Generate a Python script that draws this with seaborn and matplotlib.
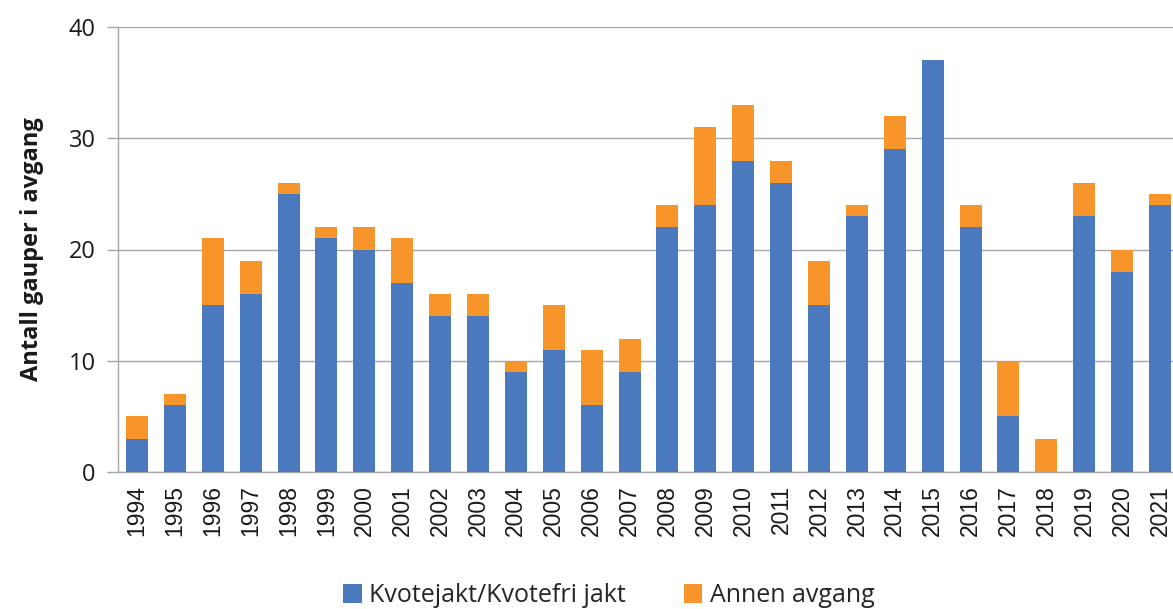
import matplotlib
matplotlib.use("Agg")
import matplotlib.pyplot as plt
import seaborn as sns
import pandas as pd
from matplotlib.patches import Patch

years = [str(y) for y in range(1994, 2022)]
kvotejakt = [3, 6, 15, 16, 25, 21, 20, 17, 14, 14, 9, 11, 6, 9, 22, 24, 28, 26, 15, 23, 29, 37, 22, 5, 0, 23, 18, 24]
annen = [2, 1, 6, 3, 1, 1, 2, 4, 2, 2, 1, 4, 5, 3, 2, 7, 5, 2, 4, 1, 3, 0, 2, 5, 3, 3, 2, 1]
labels = ["Kvotejakt/Kvotefri jakt", "Annen avgang"]
blue = "#4A7ABD"
orange = "#F7952B"

df = pd.DataFrame({"year": years, "kvote": kvotejakt, "annen": annen})
df["total"] = df["kvote"] + df["annen"]

sns.set_style("white")
plt.rcParams["font.family"] = ["Open Sans", "DejaVu Sans"]

fig = plt.figure(figsize=(11.73, 6.09), dpi=100)
ax = fig.add_axes([118/1173, 1 - 472/609, (1179 - 118)/1173, (472 - 27)/609])

sns.barplot(data=df, x="year", y="total", color=orange, width=0.58, saturation=1, ax=ax,
            zorder=2, linewidth=0, edgecolor="none")
sns.barplot(data=df, x="year", y="kvote", color=blue, width=0.58, saturation=1, ax=ax,
            zorder=3, linewidth=0, edgecolor="none")

ax.set_xlim(-0.5, len(years) - 0.5)
ax.set_ylim(0, 40)
ax.set_yticks([0, 10, 20, 30, 40])
ax.yaxis.grid(True, color="#A6A6A6", linewidth=1, zorder=0)
ax.set_axisbelow(True)
for s in ["top", "right"]:
    ax.spines[s].set_visible(False)
for s in ["left", "bottom"]:
    ax.spines[s].set_color("#A6A6A6")
    ax.spines[s].set_linewidth(1)
ax.tick_params(axis="y", left=True, length=8, width=1, color="#A6A6A6", labelsize=17, pad=8, labelcolor="#1a1a1a")
ax.tick_params(axis="x", bottom=False, labelsize=16.5, pad=6, labelcolor="#1a1a1a")
for lab in ax.get_xticklabels():
    lab.set_rotation(90)
    lab.set_family(["Liberation Sans", "DejaVu Sans"])
ax.set_xlabel("")
ax.set_ylabel("Antall gauper i avgang", fontsize=17, fontweight="bold", labelpad=18, color="#1a1a1a")

handles = [Patch(facecolor=blue, edgecolor="none"), Patch(facecolor=orange, edgecolor="none")]
fig.legend(handles, labels, loc="center", bbox_to_anchor=(0.519, 0.022), ncol=2, frameon=False,
           fontsize=18, handlelength=0.75, handleheight=0.75, handletextpad=0.3, columnspacing=2.3,
           borderpad=0)

fig.savefig("out.png", dpi=100)
